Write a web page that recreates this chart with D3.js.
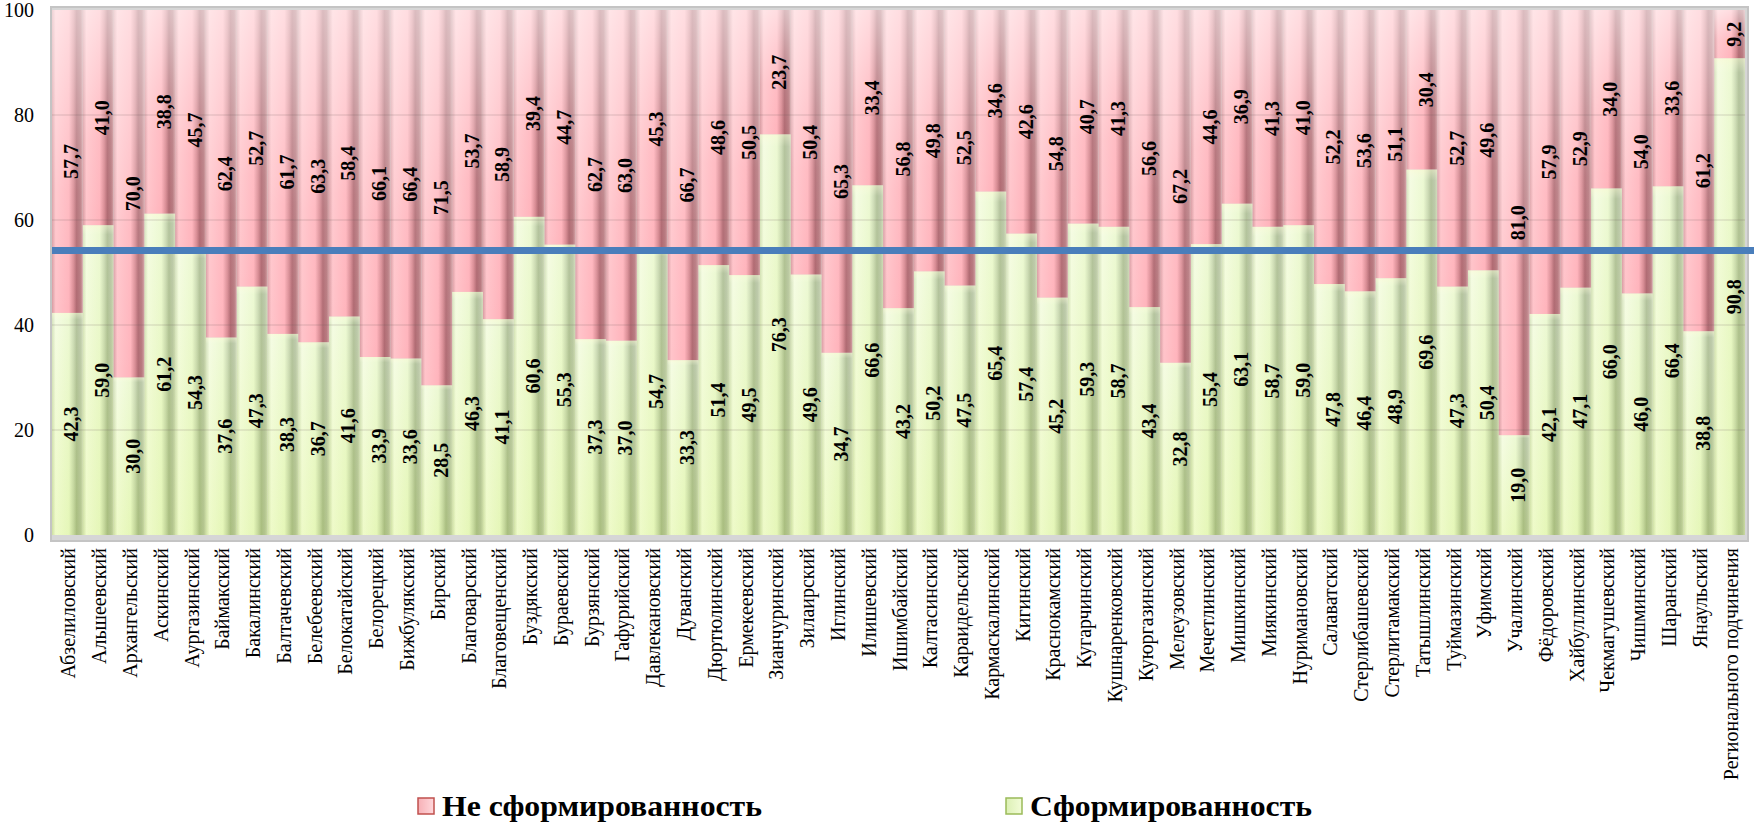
<!DOCTYPE html>
<html>
<head>
<meta charset="utf-8">
<script src="https://cdn.jsdelivr.net/npm/d3@7"></script>
<style>
  body { margin: 0; background: #fff; }
  svg text { font-family: "Liberation Serif", "Times New Roman", "DejaVu Serif Condensed", "DejaVu Serif", serif; }
</style>
</head>
<body>
<div id="chart"></div>
<script>
// Данные
const districts = [
  "Абзелиловский", "Альшеевский", "Архангельский", "Аскинский", "Аургазинский",
  "Баймакский", "Бакалинский", "Балтачевский", "Белебеевский", "Белокатайский",
  "Белорецкий", "Бижбулякский", "Бирский", "Благоварский", "Благовещенский",
  "Буздякский", "Бураевский", "Бурзянский", "Гафурийский", "Давлекановский",
  "Дуванский", "Дюртюлинский", "Ермекеевский", "Зианчуринский", "Зилаирский",
  "Иглинский", "Илишевский", "Ишимбайский", "Калтасинский", "Караидельский",
  "Кармаскалинский", "Кигинский", "Краснокамский", "Кугарчинский", "Кушнаренковский",
  "Куюргазинский", "Мелеузовский", "Мечетлинский", "Мишкинский", "Миякинский",
  "Нуримановский", "Салаватский", "Стерлибашевский", "Стерлитамакский", "Татышлинский",
  "Туймазинский", "Уфимский", "Учалинский", "Фёдоровский", "Хайбуллинский",
  "Чекмагушевский", "Чишминский", "Шаранский", "Янаульский", "Регионального подчинения"
];

const formed = [
  42.3, 59.0, 30.0, 61.2, 54.3, 37.6, 47.3, 38.3, 36.7, 41.6,
  33.9, 33.6, 28.5, 46.3, 41.1, 60.6, 55.3, 37.3, 37.0, 54.7,
  33.3, 51.4, 49.5, 76.3, 49.6, 34.7, 66.6, 43.2, 50.2, 47.5,
  65.4, 57.4, 45.2, 59.3, 58.7, 43.4, 32.8, 55.4, 63.1, 58.7,
  59.0, 47.8, 46.4, 48.9, 69.6, 47.3, 50.4, 19.0, 42.1, 47.1,
  66.0, 46.0, 66.4, 38.8, 90.8
];

const notFormed = [
  57.7, 41.0, 70.0, 38.8, 45.7, 62.4, 52.7, 61.7, 63.3, 58.4,
  66.1, 66.4, 71.5, 53.7, 58.9, 39.4, 44.7, 62.7, 63.0, 45.3,
  66.7, 48.6, 50.5, 23.7, 50.4, 65.3, 33.4, 56.8, 49.8, 52.5,
  34.6, 42.6, 54.8, 40.7, 41.3, 56.6, 67.2, 44.6, 36.9, 41.3,
  41.0, 52.2, 53.6, 51.1, 30.4, 52.7, 49.6, 81.0, 57.9, 52.9,
  34.0, 54.0, 33.6, 61.2, 9.2
];

const yTicks = [0, 20, 40, 60, 80, 100];
const refLine = 54.2;
const legendLabels = ["Не сформированность", "Сформированность"];

// Размеры
const W = 1754, H = 827;
const plot = { left: 52, right: 1745, top: 10, bottom: 535 };
const serif = "'Liberation Serif', 'Times New Roman', 'DejaVu Serif Condensed', 'DejaVu Serif', serif";

const svg = d3.select("#chart").append("svg")
  .attr("width", W)
  .attr("height", H);

// Градиенты для столбцов
const defs = svg.append("defs");

function hGrad(id, stops) {
  const g = defs.append("linearGradient").attr("id", id)
    .attr("x1", 0).attr("x2", 1).attr("y1", 0).attr("y2", 0);
  stops.forEach(s => g.append("stop").attr("offset", s[0]).attr("stop-color", s[1]));
}
hGrad("gRed", [["0%", "#d89ca2"], ["12%", "#ffc4ca"], ["55%", "#ffb4bc"], ["70%", "#d88c94"], ["80%", "#b06a72"], ["92%", "#b87a80"], ["100%", "#d4a0a4"]]);
hGrad("gGreen", [["0%", "#c4d6a2"], ["12%", "#f0fbd6"], ["55%", "#e4f6c0"], ["70%", "#b8cc98"], ["80%", "#94aa74"], ["92%", "#a2b488"], ["100%", "#bfd0a0"]]);
hGrad("gRedLeg", [["0%", "#f7b0b6"], ["100%", "#ffd8dc"]]);
hGrad("gGreenLeg", [["0%", "#dcf0b4"], ["100%", "#f2fcd8"]]);

function vGrad(id, stops) {
  const g = defs.append("linearGradient").attr("id", id)
    .attr("x1", 0).attr("x2", 0).attr("y1", 0).attr("y2", 1);
  stops.forEach(s => g.append("stop").attr("offset", s[0])
    .attr("stop-color", s[1]).attr("stop-opacity", s[2]));
}
vGrad("shineR", [["0%", "#fff", 0.55], ["60%", "#fff", 0.1], ["100%", "#fff", 0]]);
vGrad("shineG", [["0%", "#fffbe0", 0.6], ["3%", "#fff", 0.3], ["100%", "#e8f8a0", 0.25]]);

// Шкалы
const x = d3.scaleBand()
  .domain(districts)
  .range([plot.left, plot.right])
  .padding(0);

const y = d3.scaleLinear()
  .domain([0, 100])
  .range([plot.bottom, plot.top]);

// Рамка области построения
svg.append("rect")
  .attr("x", plot.left - 1)
  .attr("y", plot.top - 3)
  .attr("width", plot.right - plot.left + 4)
  .attr("height", plot.bottom - plot.top + 9)
  .attr("fill", "#d6d6d6")
  .attr("stroke", "#c4c4c4")
  .attr("stroke-width", 2);

// Ось Y
svg.append("g")
  .attr("transform", "translate(" + plot.left + ",0)")
  .call(d3.axisLeft(y).tickValues(yTicks).tickSize(0).tickPadding(18))
  .call(g => g.select(".domain").remove())
  .selectAll("text")
  .style("font-family", serif)
  .style("font-size", "20px")
  .attr("fill", "#000");

// Столбцы
const rows = districts.map((d, i) => ({ name: d, g: formed[i], r: notFormed[i] }));

const bars = svg.append("g");
bars.selectAll("rect.green")
  .data(rows)
  .enter()
  .append("rect")
  .attr("x", d => x(d.name))
  .attr("y", d => y(d.g))
  .attr("width", x.bandwidth())
  .attr("height", d => y(0) - y(d.g))
  .attr("fill", "url(#gGreen)");

bars.selectAll("rect.red")
  .data(rows)
  .enter()
  .append("rect")
  .attr("x", d => x(d.name))
  .attr("y", d => y(d.g + d.r))
  .attr("width", x.bandwidth())
  .attr("height", d => y(d.g) - y(d.g + d.r))
  .attr("fill", "url(#gRed)");

// блики сверху сегментов
bars.selectAll("rect.shineG")
  .data(rows)
  .enter()
  .append("rect")
  .attr("x", d => x(d.name))
  .attr("y", d => y(d.g))
  .attr("width", x.bandwidth())
  .attr("height", d => y(0) - y(d.g))
  .attr("fill", "url(#shineG)");

bars.selectAll("rect.shineR")
  .data(rows)
  .enter()
  .append("rect")
  .attr("x", d => x(d.name))
  .attr("y", d => y(d.g + d.r))
  .attr("width", x.bandwidth())
  .attr("height", d => y(d.g) - y(d.g + d.r))
  .attr("fill", "url(#shineR)");

// Линии сетки
svg.append("g")
  .selectAll("line")
  .data(yTicks.filter(t => t > 0 && t < 100))
  .enter()
  .append("line")
  .attr("x1", plot.left)
  .attr("x2", plot.right)
  .attr("y1", d => y(d))
  .attr("y2", d => y(d))
  .attr("stroke", "#6a5a5a")
  .attr("stroke-opacity", 0.12)
  .attr("stroke-width", 2);

// Подписи значений
const fmt = v => v.toFixed(1).replace(".", ",");
const labels = svg.append("g")
  .style("font-family", serif)
  .style("font-size", "20px")
  .style("font-weight", "bold");

labels.selectAll("text.g")
  .data(rows)
  .enter()
  .append("text")
  .attr("transform", d => "translate(" + (x(d.name) + x.bandwidth() / 2 + 4) + "," + y(d.g / 2) + ") rotate(-90)")
  .attr("text-anchor", "middle")
  .attr("dy", "0.35em")
  .text(d => fmt(d.g));

labels.selectAll("text.r")
  .data(rows)
  .enter()
  .append("text")
  .attr("transform", d => "translate(" + (x(d.name) + x.bandwidth() / 2 + 4) + "," + y(d.g + d.r / 2) + ") rotate(-90)")
  .attr("text-anchor", "middle")
  .attr("dy", "0.35em")
  .text(d => fmt(d.r));

// Подписи категорий
svg.append("g")
  .selectAll("text")
  .data(districts)
  .enter()
  .append("text")
  .attr("transform", d => "translate(" + (x(d) + x.bandwidth() / 2 + 1) + "," + (plot.bottom + 13) + ") rotate(-90)")
  .attr("text-anchor", "end")
  .attr("dy", "0.35em")
  .style("font-family", serif)
  .style("font-size", "20px")
  .text(d => d);

// Горизонтальная линия
svg.append("line")
  .attr("x1", plot.left)
  .attr("x2", W)
  .attr("y1", y(refLine))
  .attr("y2", y(refLine))
  .attr("stroke", "#4a7ebb")
  .attr("stroke-width", 7);

// Легенда
const legend = [
  { label: legendLabels[0], x: 418, fill: "url(#gRedLeg)", stroke: "#c0504d", len: 320 },
  { label: legendLabels[1], x: 1006, fill: "url(#gGreenLeg)", stroke: "#9bbb59", len: 282 }
];

const lg = svg.append("g").selectAll("g")
  .data(legend)
  .enter()
  .append("g");

lg.append("rect")
  .attr("x", d => d.x)
  .attr("y", 798)
  .attr("width", 16)
  .attr("height", 16)
  .attr("fill", d => d.fill)
  .attr("stroke", d => d.stroke)
  .attr("stroke-width", 1.5);

lg.append("text")
  .attr("x", d => d.x + 24)
  .attr("y", 816)
  .attr("textLength", d => d.len)
  .attr("lengthAdjust", "spacingAndGlyphs")
  .style("font-family", serif)
  .style("font-size", "30px")
  .style("font-weight", "bold")
  .text(d => d.label);
</script>
</body>
</html>
